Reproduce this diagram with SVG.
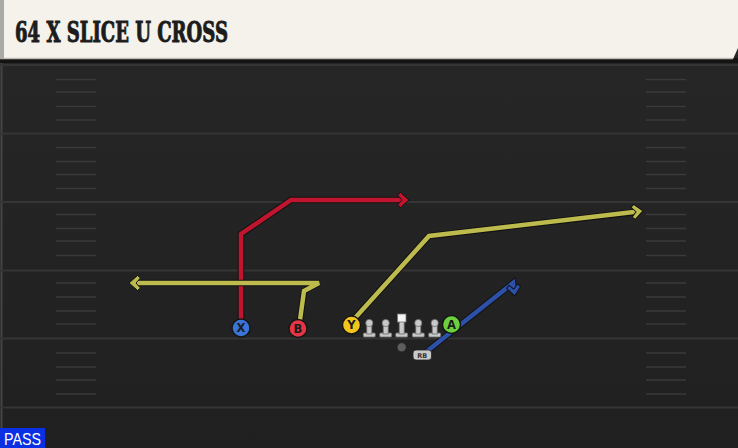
<svg xmlns="http://www.w3.org/2000/svg" width="738" height="448" viewBox="0 0 738 448">
<defs>
<style>
.fl{stroke:#353535;stroke-width:2}
.hm{stroke:#3a3a3a;stroke-width:1.6}
.out{fill:none;stroke:#121212;stroke-width:6.5;stroke-linejoin:miter;stroke-linecap:butt}
.rt{fill:none;stroke-width:4.5;stroke-linejoin:miter;stroke-linecap:butt}
.pc{stroke:#151515;stroke-width:1.4}
.pl{font-family:"DejaVu Sans","Liberation Sans",sans-serif;font-weight:bold;font-size:11.5px;fill:#1b1b1b;text-anchor:middle}
.ol{fill:#c9c9c9;stroke:#6d6d6d;stroke-width:0.8}
</style>
<marker id="mr" markerUnits="userSpaceOnUse" markerWidth="24" markerHeight="24" refX="0" refY="0" viewBox="-12 -12 24 24" orient="auto"><path d="M5,0 L-3.5,-7.5 L-6.5,-5 L-2,0 L-6.5,5 L-3.5,7.5 Z" fill="#c0152f" stroke="#121212" stroke-width="1" stroke-linejoin="miter"/></marker>
<marker id="my" markerUnits="userSpaceOnUse" markerWidth="24" markerHeight="24" refX="0" refY="0" viewBox="-12 -12 24 24" orient="auto"><path d="M5,0 L-3.5,-7.5 L-6.5,-5 L-2,0 L-6.5,5 L-3.5,7.5 Z" fill="#bdbb4d" stroke="#121212" stroke-width="1" stroke-linejoin="miter"/></marker>
<marker id="mb" markerUnits="userSpaceOnUse" markerWidth="24" markerHeight="24" refX="0" refY="0" viewBox="-12 -12 24 24" orient="auto"><path d="M5,0 L-3.5,-7 L-6.5,-4.5 L-2,0 L-6.5,4.5 L-3.5,7 Z" fill="#2d51a8" stroke="#121212" stroke-width="1" stroke-linejoin="miter"/></marker>
<g id="lm"><rect x="-6" y="1" width="12" height="4" rx="1" class="ol"/><rect x="-2.5" y="-7" width="5" height="9" class="ol"/><circle cx="0" cy="-9" r="3.6" class="ol"/></g>
<linearGradient id="bg" x1="0" y1="0" x2="0" y2="1"><stop offset="0" stop-color="#272727"/><stop offset="1" stop-color="#202020"/></linearGradient>
</defs>
<rect x="0" y="0" width="738" height="448" fill="url(#bg)"/>
<line x1="1.5" y1="58" x2="1.5" y2="448" stroke="#444" stroke-width="2"/>
<g id="field">
<line class="fl" x1="0" y1="65" x2="738" y2="65"/>
<line class="fl" x1="0" y1="133.5" x2="738" y2="133.5"/>
<line class="fl" x1="0" y1="202" x2="738" y2="202"/>
<line class="fl" x1="0" y1="270.5" x2="738" y2="270.5"/>
<line class="fl" x1="0" y1="338.5" x2="738" y2="338.5"/>
<line class="fl" x1="0" y1="407.5" x2="738" y2="407.5"/>
<g id="hashL">
<line class="hm" x1="56" x2="96" y1="79.5" y2="79.5"/><line class="hm" x1="56" x2="96" y1="92" y2="92"/><line class="hm" x1="56" x2="96" y1="106.5" y2="106.5"/><line class="hm" x1="56" x2="96" y1="120" y2="120"/>
<line class="hm" x1="56" x2="96" y1="147.5" y2="147.5"/><line class="hm" x1="56" x2="96" y1="161.5" y2="161.5"/><line class="hm" x1="56" x2="96" y1="174.5" y2="174.5"/><line class="hm" x1="56" x2="96" y1="188.5" y2="188.5"/>
<line class="hm" x1="56" x2="96" y1="214.5" y2="214.5"/><line class="hm" x1="56" x2="96" y1="228.5" y2="228.5"/><line class="hm" x1="56" x2="96" y1="241" y2="241"/><line class="hm" x1="56" x2="96" y1="255.5" y2="255.5"/>
<line class="hm" x1="56" x2="96" y1="283" y2="283"/><line class="hm" x1="56" x2="96" y1="297" y2="297"/><line class="hm" x1="56" x2="96" y1="311" y2="311"/><line class="hm" x1="56" x2="96" y1="324" y2="324"/>
<line class="hm" x1="56" x2="96" y1="353" y2="353"/><line class="hm" x1="56" x2="96" y1="367" y2="367"/><line class="hm" x1="56" x2="96" y1="380" y2="380"/><line class="hm" x1="56" x2="96" y1="394" y2="394"/>
</g>
<use href="#hashL" x="590"/>
</g>
<g id="header">
<rect x="0" y="58" width="738" height="5" fill="#141414"/>
<path d="M0,0 H738 V48 L733,59 H0 Z" fill="#f4f2eb"/>
<path d="M0,58.5 H733" stroke="#bdbbb5" stroke-width="1.5"/>
<rect x="0" y="0" width="4" height="59" fill="#a9a9a6"/>
<text x="15" y="42" font-family="'DejaVu Serif','Liberation Serif',serif" font-weight="bold" font-size="27.5" fill="#1c1c1c" stroke="#1c1c1c" stroke-width="1" textLength="213" lengthAdjust="spacingAndGlyphs">64 X SLICE U CROSS</text>
</g>
<g id="connectors">
<path class="out" d="M241,320 V234 L291,200 H402"/>
<path class="rt" stroke="#c0152f" d="M241,320 V234 L291,200 H404" marker-end="url(#mr)"/>
<path class="out" d="M300,320 L304,291 L319,283 H136"/>
<path class="rt" stroke="#bdbb4d" d="M300,320 L304,291 L319,283 H134" marker-end="url(#my)"/>
<path class="out" d="M355,318 L429,236 L636,212"/>
<path class="rt" stroke="#bdbb4d" d="M355,318 L429,236 L638,211.5" marker-end="url(#my)"/>
<path class="out" d="M426,352 L513,283 L514,289"/>
<path class="rt" stroke="#2d51a8" d="M426,352 L513,283 L514,291" marker-end="url(#mb)"/>
</g>
<g id="X"><circle class="pc" cx="241" cy="328" r="9" fill="#3a74d8"/><text class="pl" x="241" y="332">X</text></g>
<g id="B"><circle class="pc" cx="298" cy="328.5" r="9" fill="#e53645"/><text class="pl" x="298" y="332.5">B</text></g>
<g id="Y"><circle class="pc" cx="351.5" cy="325" r="9" fill="#f2c51c"/><text class="pl" x="351.5" y="329">Y</text></g>
<g id="LT"><use href="#lm" x="369.3" y="332"/></g>
<g id="LG"><use href="#lm" x="385.7" y="332"/></g>
<g id="C"><rect x="-6" y="1" width="12" height="4" rx="1" class="ol" transform="translate(401.7,332)"/><rect x="399.2" y="320" width="5" height="14" class="ol"/><rect x="397.5" y="314" width="8.5" height="8" fill="#f4f4f4" stroke="#777" stroke-width="0.8"/></g>
<g id="RG"><use href="#lm" x="418.3" y="332"/></g>
<g id="RT"><use href="#lm" x="434.7" y="332"/></g>
<g id="A"><circle class="pc" cx="451.5" cy="324.5" r="9" fill="#6cd03e"/><text class="pl" x="451.5" y="328.5">A</text></g>
<g id="QB"><circle cx="401.7" cy="347.3" r="4.5" fill="#5e5e5e" stroke="#2a2a2a" stroke-width="0.8"/></g>
<g id="RB"><rect x="413" y="350" width="18.5" height="10" rx="3" fill="#c8c8c8" stroke="#222" stroke-width="0.8"/><text x="422.2" y="358" font-family="'DejaVu Sans','Liberation Sans',sans-serif" font-weight="bold" font-size="6.5" fill="#333" text-anchor="middle">RB</text></g>
<g id="pass"><rect x="0" y="428" width="45" height="20" fill="#0b2fe3"/><text x="4" y="445" font-family="'Liberation Sans',sans-serif" font-size="17" fill="#ffffff" textLength="37" lengthAdjust="spacingAndGlyphs">PASS</text></g>
</svg>
